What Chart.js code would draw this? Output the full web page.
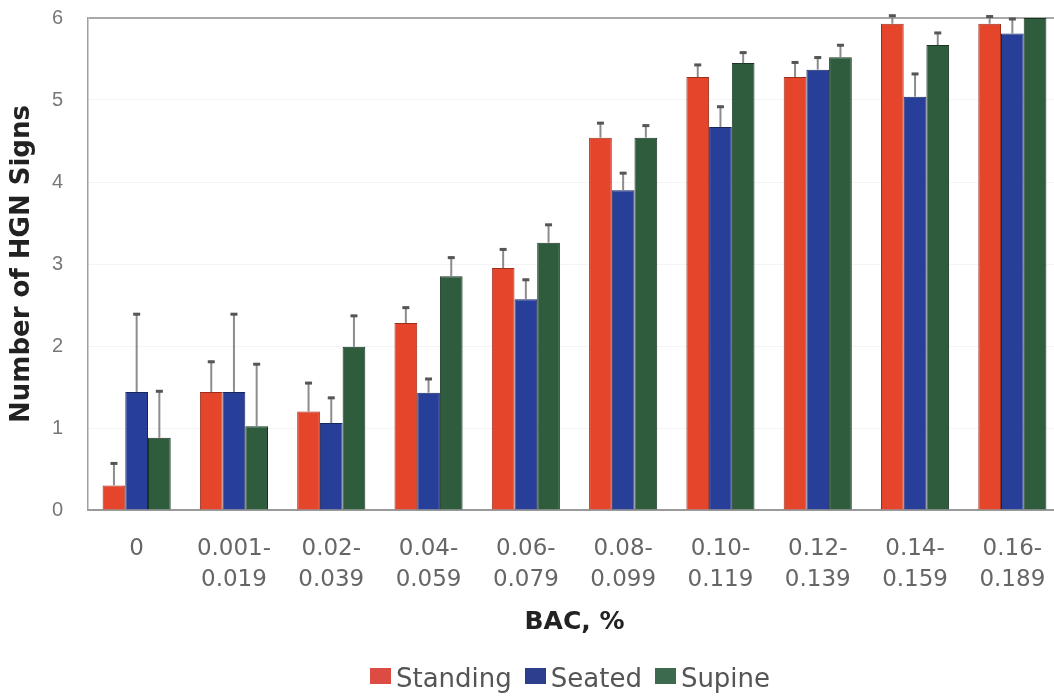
<!DOCTYPE html>
<html>
<head>
<meta charset="utf-8">
<script src="https://cdn.jsdelivr.net/npm/chart.js@4.4.1/dist/chart.umd.min.js"></script>
<style>
  html, body { margin: 0; padding: 0; background: #fff; overflow: hidden; }
  #wrap { width: 1075px; height: 698px; }
</style>
</head>
<body>
<div id="wrap"><canvas id="c" width="1075" height="698"></canvas></div>
<script>
// BAC ranges (two-line tick labels)
const categories = [
  ['0'], ['0.001-', '0.019'], ['0.02-', '0.039'], ['0.04-', '0.059'], ['0.06-', '0.079'],
  ['0.08-', '0.099'], ['0.10-', '0.119'], ['0.12-', '0.139'], ['0.14-', '0.159'], ['0.16-', '0.189']
];

// Mean number of HGN signs per position
const standing = [0.30, 1.44, 1.20, 2.28, 2.95, 4.54, 5.28, 5.28, 5.93, 5.93];
const seated   = [1.44, 1.44, 1.06, 1.43, 2.57, 3.90, 4.67, 5.37, 5.04, 5.81];
const supine   = [0.88, 1.02, 1.99, 2.85, 3.26, 4.54, 5.45, 5.52, 5.67, 6.00];

// Upper error bar lengths
const standingErr = [0.28, 0.38, 0.36, 0.20, 0.24, 0.19, 0.16, 0.19, 0.11, 0.10];
const seatedErr   = [0.96, 0.96, 0.32, 0.18, 0.25, 0.22, 0.26, 0.16, 0.29, 0.19];
const supineErr   = [0.58, 0.77, 0.39, 0.24, 0.23, 0.16, 0.14, 0.16, 0.16, 0];

const yTicks = [0, 1, 2, 3, 4, 5, 6];

// Legend swatches: a filled rectangle sitting slightly above the text centre
function swatch(color) {
  const c = document.createElement('canvas');
  c.width = 21;
  c.height = 24;
  const g = c.getContext('2d');
  g.fillStyle = color;
  g.fillRect(0, 0, 21, 16);
  return c;
}
const swatches = [swatch('#dc4c42'), swatch('#2d3e8e'), swatch('#3b6a4f')];

// Draws one-sided (upper) error bars on top of each bar
const errorBars = {
  id: 'errorBars',
  afterDatasetsDraw(chart) {
    const ctx = chart.ctx;
    const yScale = chart.scales.y;
    chart.data.datasets.forEach((ds, i) => {
      const meta = chart.getDatasetMeta(i);
      meta.data.forEach((bar, j) => {
        const e = ds.errors[j];
        if (!e) return;
        const top = yScale.getPixelForValue(ds.data[j] + e);
        ctx.save();
        ctx.strokeStyle = '#8c8c8c';
        ctx.lineWidth = 2;
        ctx.beginPath();
        ctx.moveTo(bar.x, bar.y);
        ctx.lineTo(bar.x, top);
        ctx.stroke();
        ctx.strokeStyle = '#555';
        ctx.lineWidth = 3;
        ctx.beginPath();
        ctx.moveTo(bar.x - 3.5, top + 1);
        ctx.lineTo(bar.x + 3.5, top + 1);
        ctx.stroke();
        ctx.restore();
      });
    });
  }
};

new Chart(document.getElementById('c'), {
  type: 'bar',
  data: {
    labels: categories,
    datasets: [
      { label: 'Standing', data: standing, errors: standingErr,
        backgroundColor: '#e5452b', borderColor: '#9c2e1c', borderWidth: 1 },
      { label: 'Seated', data: seated, errors: seatedErr,
        backgroundColor: '#283f99', borderColor: '#18265e', borderWidth: 1 },
      { label: 'Supine', data: supine, errors: supineErr,
        backgroundColor: '#2f5c3d', borderColor: '#1b3524', borderWidth: 1 }
    ]
  },
  options: {
    responsive: false,
    animation: false,
    devicePixelRatio: 1,
    layout: { padding: { top: 18, left: 0, right: 14, bottom: -5 } },
    datasets: { bar: { categoryPercentage: 0.70, barPercentage: 1.0 } },
    scales: {
      x: {
        grid: { display: false, drawTicks: false },
        border: { color: '#9a9a9a', width: 2 },
        ticks: {
          color: '#666',
          font: { family: 'DejaVu Sans', size: 23, lineHeight: 1.36 },
          padding: 23,
          maxRotation: 0,
          autoSkip: false
        },
        title: {
          display: true,
          text: 'BAC, %',
          color: '#222',
          font: { family: 'DejaVu Sans', size: 25, weight: 'bold', lineHeight: 1.2 },
          padding: { top: 0, bottom: 8 }
        },
        afterFit(scale) { scale.height = 135; }
      },
      y: {
        min: 0,
        max: 6,
        afterBuildTicks(scale) { scale.ticks = yTicks.map(v => ({ value: v })); },
        grid: {
          drawTicks: false,
          color: c => (c.tick && c.tick.value === 6) ? '#a8a8a8' : 'rgba(0,0,0,0.045)',
          lineWidth: c => (c.tick && c.tick.value === 6) ? 2 : 1
        },
        border: { color: '#a0a0a0', width: 1.5 },
        ticks: {
          color: '#777',
          font: { family: 'Liberation Sans', size: 20 },
          padding: 25
        },
        title: {
          display: true,
          text: 'Number of HGN Signs',
          color: '#222',
          font: { family: 'DejaVu Sans', size: 26, weight: 'bold', lineHeight: 1.2 },
          padding: { top: 7, bottom: 0 }
        },
        afterFit(scale) {
          scale.width = 88;
          scale.paddingTop = 0;
          scale.paddingBottom = 0;
        }
      }
    },
    plugins: {
      legend: {
        position: 'bottom',
        fullSize: false,
        labels: {
          color: '#555',
          font: { family: 'DejaVu Sans', size: 26 },
          usePointStyle: true,
          pointStyleWidth: 4,
          padding: 22,
          generateLabels(chart) {
            return Chart.defaults.plugins.legend.labels.generateLabels(chart)
              .map(l => Object.assign(l, { pointStyle: swatches[l.datasetIndex], lineWidth: 0 }));
          }
        }
      },
      tooltip: { enabled: false }
    }
  },
  plugins: [errorBars]
});
</script>
</body>
</html>
